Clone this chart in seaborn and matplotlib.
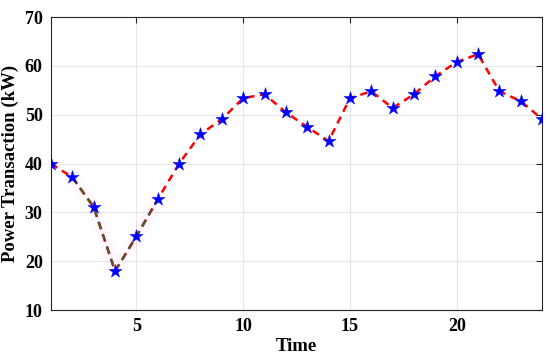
import matplotlib
matplotlib.use("Agg")
import matplotlib.pyplot as plt
import seaborn as sns
import pandas as pd

time = list(range(1, 25))
power = [40.0, 37.2, 31.1, 18.0, 25.1, 32.7, 40.0, 46.0, 49.1, 53.4, 54.2, 50.5,
         47.5, 44.6, 53.4, 54.8, 51.4, 54.2, 57.9, 60.8, 62.4, 54.8, 52.8, 49.1]
x_ticks = [5, 10, 15, 20]
y_ticks = [10, 20, 30, 40, 50, 60, 70]

df = pd.DataFrame({"Time": time, "Power": power})
seg = df[(df.Time >= 2) & (df.Time <= 6)]

sns.set_style("white")
plt.rcParams['font.family'] = ['Liberation Serif', 'DejaVu Serif']
plt.rcParams['font.weight'] = 'bold'

fig = plt.figure(figsize=(5.5, 3.64), dpi=100)
ax = fig.add_axes([0.0927, 0.148, 0.893, 0.805])

# faint pink halo
sns.lineplot(data=seg, x="Time", y="Power", ax=ax, color="#ff66ff", lw=9, alpha=0.04)
sns.lineplot(data=df, x="Time", y="Power", ax=ax, color="red", lw=1.8,
             linestyle=(0, (3, 2.2)))
sns.lineplot(data=seg, x="Time", y="Power", ax=ax, color="#5a5230", lw=1.8,
             linestyle=(0, (3, 2.2)))
sns.scatterplot(data=df, x="Time", y="Power", ax=ax, marker="*", s=100,
                color="blue", edgecolor="blue", linewidth=0.3, zorder=5)

ax.set_xlim(1, 24)
ax.set_ylim(10, 70)
ax.set_xticks(x_ticks)
ax.set_yticks(y_ticks)
ax.grid(True, color="#e6e6e6", lw=0.8)
ax.set_axisbelow(True)
ax.tick_params(direction="in", top=True, right=True, length=4, width=0.8,
               colors="#262626", labelsize=13, pad=6)
for lab in ax.get_xticklabels() + ax.get_yticklabels():
    lab.set_fontweight("bold")
    lab.set_color("black")
for s in ax.spines.values():
    s.set_color("#262626")
    s.set_linewidth(0.8)
ax.set_xlabel("Time", fontsize=13.5, fontweight="bold", labelpad=2, color="black")
ax.set_ylabel("Power Transaction (kW)", fontsize=13.5, fontweight="bold",
              labelpad=4, color="black")

fig.savefig("out.png", dpi=100)
